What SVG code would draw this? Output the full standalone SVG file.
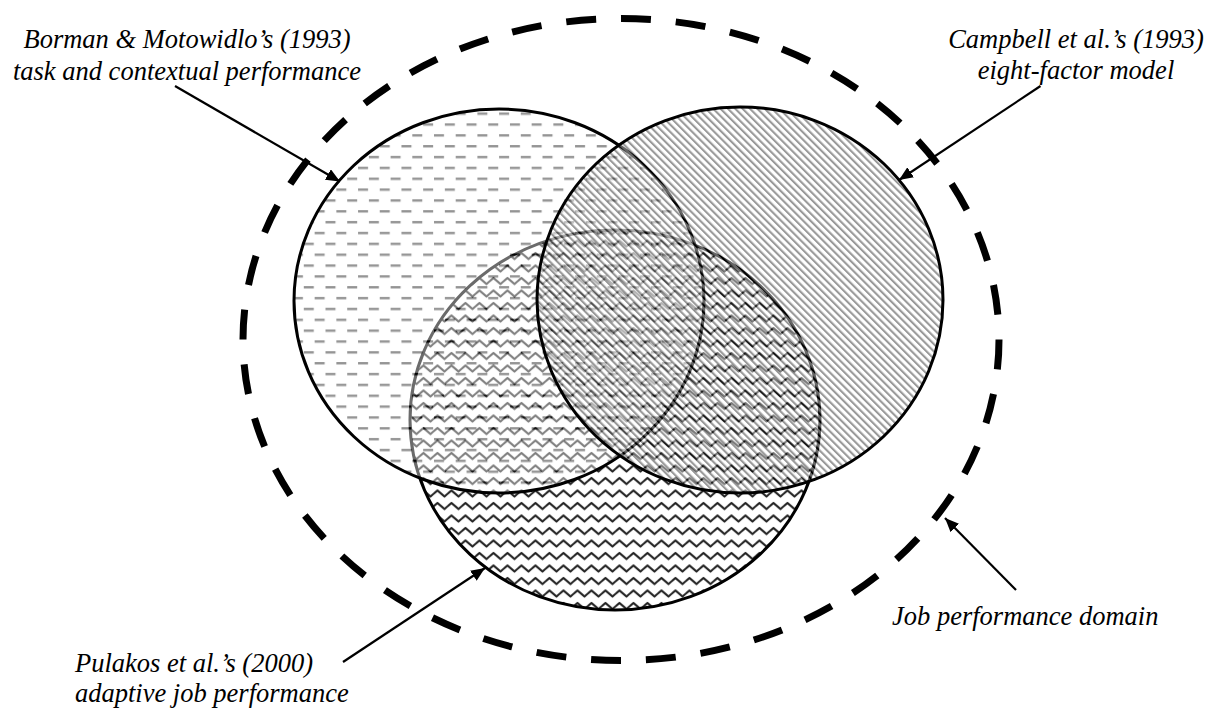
<svg xmlns="http://www.w3.org/2000/svg" width="1227" height="713" viewBox="0 0 1227 713">
  <style>
    .label { font-family: "Liberation Serif", "Times New Roman", serif; font-style: italic; font-size: 26.5px; fill: #000; }
    .model { stroke: #000; stroke-width: 3; }
    .domain { fill: none; stroke: #000; stroke-width: 7; stroke-dasharray: 30 25; }
    .arrow { stroke: #000; stroke-width: 2.2; fill: none; marker-end: url(#head); }
  </style>
  <defs>
    <!-- staggered horizontal dashes -->
    <pattern id="pat-dash" width="21.7" height="21.7" patternUnits="userSpaceOnUse">
      <rect width="21.7" height="21.7" fill="#fff"/>
      <rect x="0" y="4" width="10" height="2.4" fill="#000"/>
      <rect x="10.85" y="14.85" width="10" height="2.4" fill="#000"/>
    </pattern>
    <!-- diagonal stripes, top-left to bottom-right -->
    <pattern id="pat-diag" width="5.2" height="10" patternUnits="userSpaceOnUse" patternTransform="rotate(-45)">
      <rect width="5.2" height="10" fill="#fff"/>
      <rect x="0" y="0" width="2.1" height="10" fill="#000"/>
    </pattern>
    <!-- zigzag waves -->
    <pattern id="pat-wave" width="14" height="12.5" patternUnits="userSpaceOnUse">
      <rect width="14" height="12.5" fill="#fff"/>
      <path d="M-3.5,9 L0,6 L3.5,3 L10.5,9 L14,6 L17.5,3" fill="none" stroke="#222" stroke-width="2" stroke-linejoin="round"/>
    </pattern>
    <marker id="head" viewBox="0 0 14 12" refX="14" refY="6" markerWidth="14" markerHeight="12" markerUnits="userSpaceOnUse" orient="auto">
      <path d="M0,0 L14,6 L0,12 Z" fill="#000"/>
    </marker>
  </defs>

  <rect width="1227" height="713" fill="#fff"/>

  <g id="domain">
    <ellipse class="domain" cx="621" cy="339.5" rx="378" ry="321" pathLength="2200"/>
    <text class="label" x="892" y="625">Job performance domain</text>
  </g>

  <g id="pulakos">
    <ellipse class="model" cx="615" cy="420" rx="205" ry="190" fill="url(#pat-wave)"/>
    <text class="label" x="75" y="671.5">Pulakos et al.’s (2000)</text>
    <text class="label" x="75" y="701.5">adaptive job performance</text>
  </g>

  <g id="borman">
    <ellipse class="model" cx="499" cy="301" rx="205" ry="192" fill="url(#pat-dash)" fill-opacity="0.42"/>
    <text class="label" x="187" y="48" text-anchor="middle">Borman &amp; Motowidlo’s (1993)</text>
    <text class="label" x="187" y="80" text-anchor="middle">task and contextual performance</text>
  </g>

  <g id="campbell">
    <ellipse class="model" cx="740" cy="300" rx="203" ry="193" fill="url(#pat-diag)" fill-opacity="0.4"/>
    <text class="label" x="1076" y="48" text-anchor="middle">Campbell et al.’s (1993)</text>
    <text class="label" x="1076" y="79" text-anchor="middle">eight-factor model</text>
  </g>

  <g id="connectors">
    <line class="arrow" x1="175" y1="86" x2="340" y2="181.5"/>
    <line class="arrow" x1="1040.5" y1="86" x2="899" y2="180"/>
    <line class="arrow" x1="343" y1="662" x2="485" y2="568"/>
    <line class="arrow" x1="1016" y1="590" x2="945" y2="518"/>
  </g>
</svg>
